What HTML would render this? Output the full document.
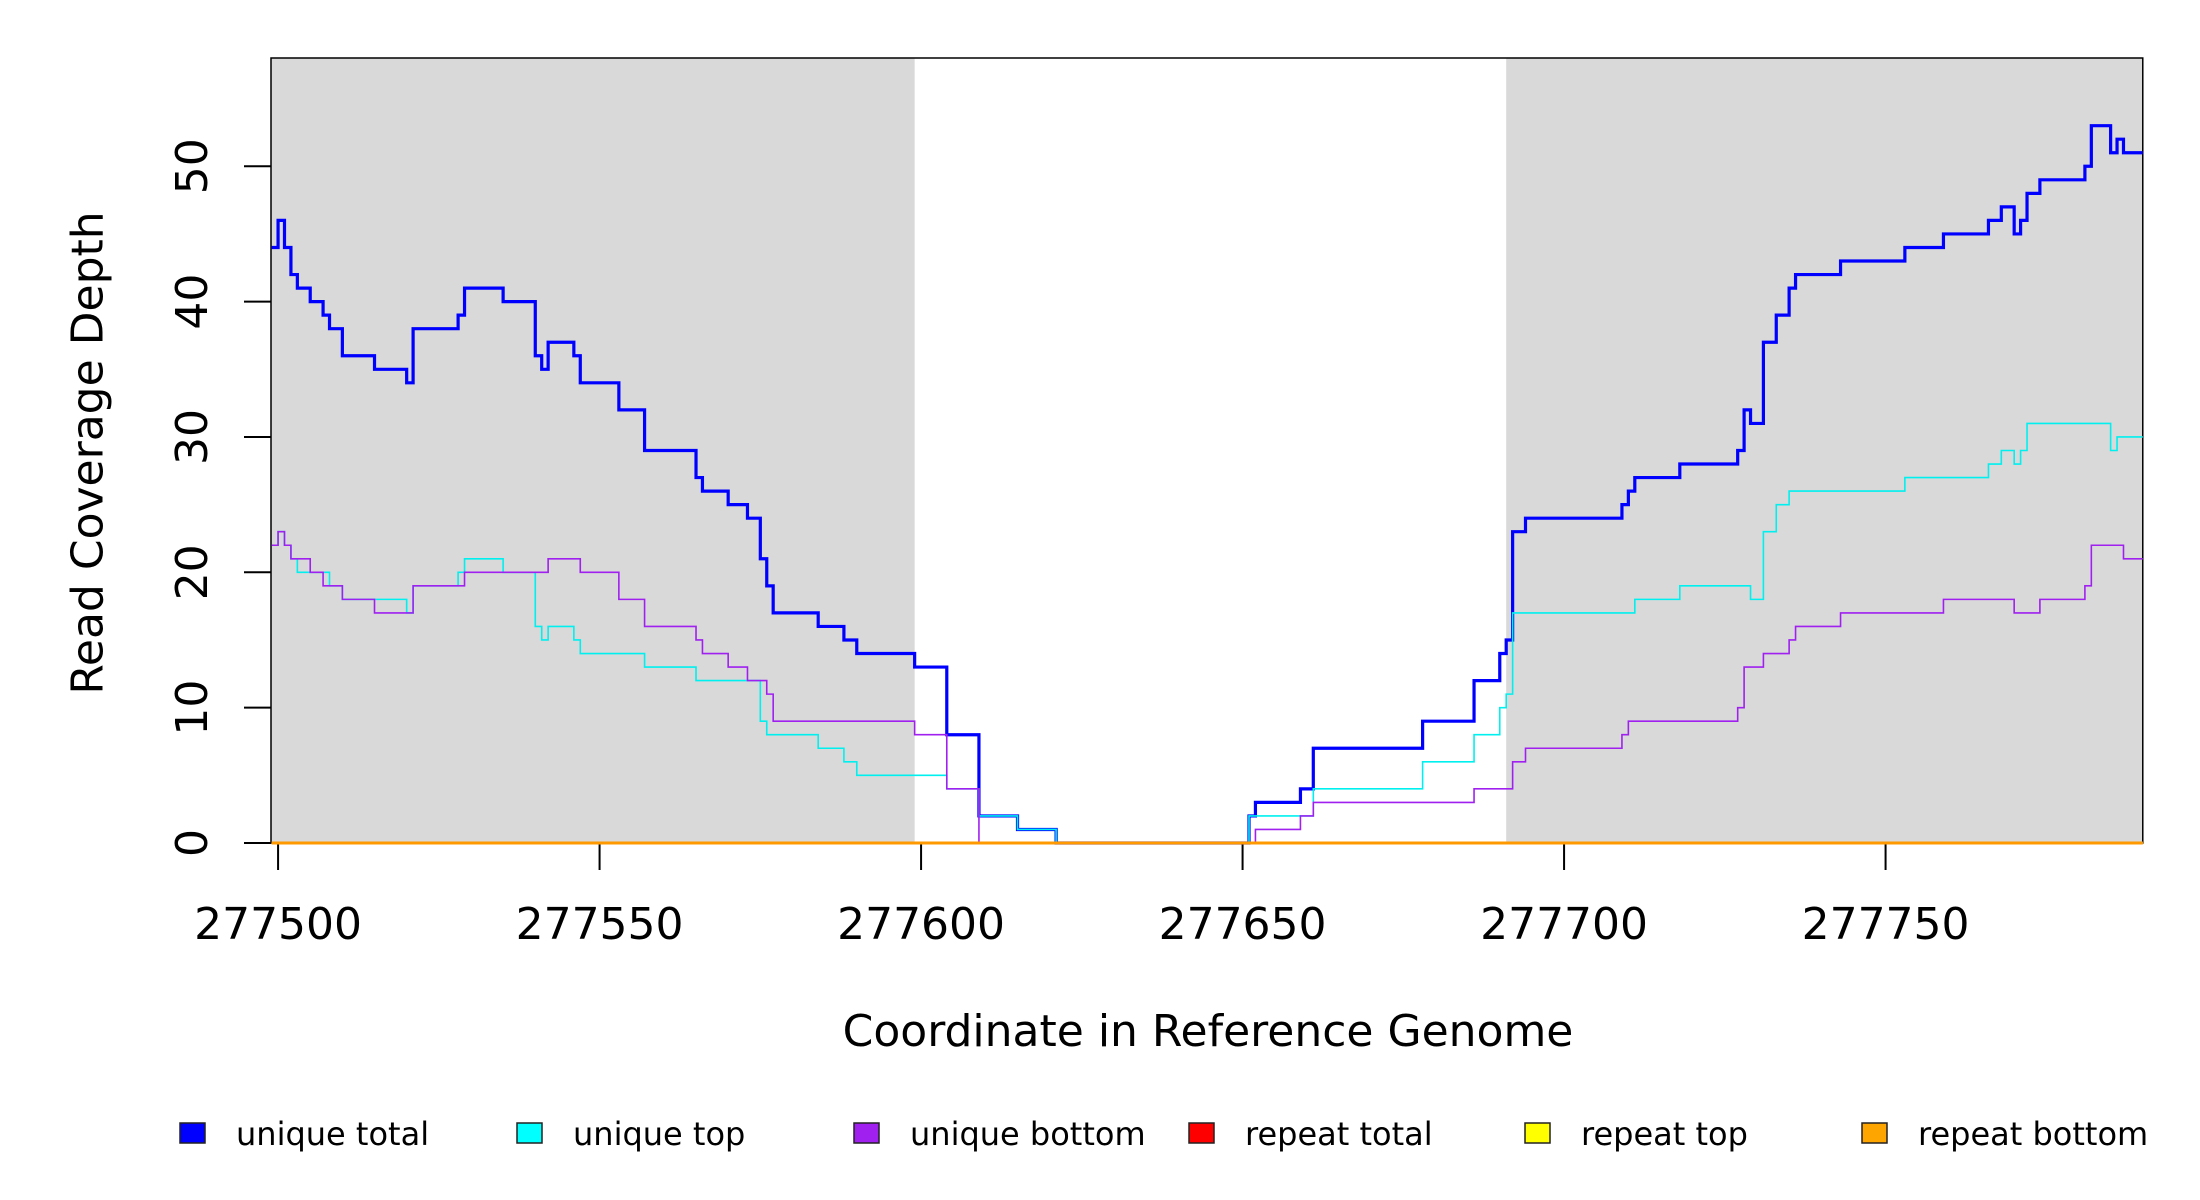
<!DOCTYPE html>
<html><head><meta charset="utf-8"><style>
html,body{margin:0;padding:0;background:#fff;}
svg{display:block;font-family:"DejaVu Sans","Liberation Sans",sans-serif;}
</style></head><body>
<svg id="chart" width="2200" height="1200" viewBox="0 0 2200 1200" xmlns="http://www.w3.org/2000/svg">
<g id="bg"></g>
<g id="axes"></g>
<g id="series"></g>
<text x="88" y="453" font-size="44" text-anchor="middle" dominant-baseline="central" transform="rotate(-90 88 453)">Read Coverage Depth</text>
<text x="1208" y="1046" font-size="44" text-anchor="middle">Coordinate in Reference Genome</text>
<g id="legend"></g>
</svg>
<script>
const breaks = [277499,277500,277501,277502,277503,277505,277507,277508,277510,277515,277520,277521,277528,277529,277535,277540,277541,277542,277546,277547,277553,277557,277565,277566,277570,277573,277575,277576,277577,277584,277588,277590,277599,277604,277609,277615,277621,277651,277652,277659,277661,277678,277686,277690,277691,277692,277694,277709,277710,277711,277718,277727,277728,277729,277731,277733,277735,277736,277743,277753,277759,277766,277768,277770,277771,277772,277774,277781,277782,277785,277786,277787];
const endCoord = 277790;
const uniqueTotal = [44,46,44,42,41,40,39,38,36,35,34,38,39,41,40,36,35,37,36,34,32,29,27,26,25,24,21,19,17,16,15,14,13,8,2,1,0,2,3,4,7,9,12,14,15,23,24,25,26,27,28,29,32,31,37,39,41,42,43,44,45,46,47,45,46,48,49,50,53,51,52,51];
const uniqueTop = [22,23,22,21,20,20,20,19,18,18,17,19,20,21,20,16,15,16,15,14,14,13,12,12,12,12,9,8,8,7,6,5,5,4,2,1,0,2,2,2,4,6,8,10,11,17,17,17,17,18,19,19,19,18,23,25,26,26,26,27,27,28,29,28,29,31,31,31,31,29,30,30];
const uniqueBottom = [22,23,22,21,21,20,19,19,18,17,17,19,19,20,20,20,20,21,21,20,18,16,15,14,13,12,12,11,9,9,9,9,8,4,0,0,0,0,1,2,3,3,4,4,4,6,7,8,9,9,9,10,13,13,14,14,15,16,17,17,18,18,18,17,17,17,18,19,22,22,22,21];
const repeatTotal = breaks.map(()=>0);
const repeatTop = breaks.map(()=>0);
const repeatBottom = breaks.map(()=>0);
const shadedRegions = [[277498.9,277599],[277691,277790]];
const xTicks = [277500,277550,277600,277650,277700,277750];
const yTicks = [0,10,20,30,40,50];
const legendLabels = ["unique total","unique top","unique bottom","repeat total","repeat top","repeat bottom"];
const legendColors = ["#0000ff","#00ffff","#a020f0","#ff0000","#ffff00","#ffa500"];

const xmin=277498.9, xmax=277790, ymin=0, ymax=58;
const X0=271, X1=271+(xmax-xmin)*6.43, Y0=843, Y1=58;
const sx = v => X0 + (v-xmin)/(xmax-xmin)*(X1-X0);
const sy = v => Y0 - (v-ymin)/(ymax-ymin)*(Y0-Y1);
const NS="http://www.w3.org/2000/svg";
function mk(tag, attrs, parent){const e=document.createElementNS(NS,tag);for(const k in attrs)e.setAttribute(k,attrs[k]);parent.appendChild(e);return e;}

const bg=document.getElementById('bg');
shadedRegions.forEach(r=>{
  const e=mk('rect',{x:sx(r[0]),y:Y1,width:sx(r[1])-sx(r[0]),height:Y0-Y1,fill:'#d9d9d9'},bg);
  
  
});

function stepPath(vals){
  let d='';
  for(let i=0;i<breaks.length;i++){
    const x0=sx(breaks[i]), x1=sx(i+1<breaks.length?breaks[i+1]:endCoord), y=sy(vals[i]);
    d += (i===0?'M':'L')+x0.toFixed(2)+' '+y.toFixed(2)+' L'+x1.toFixed(2)+' '+y.toFixed(2)+' ';
  }
  return d;
}

const ax=document.getElementById('axes');
const frame=mk('rect',{x:X0,y:Y1,width:X1-X0,height:Y0-Y1,fill:'none',stroke:'#000','stroke-width':1.5},ax);


xTicks.forEach(t=>{
  const tk=mk('line',{x1:sx(t),x2:sx(t),y1:Y0,y2:Y0+27,stroke:'#000','stroke-width':2},ax);
  
  
  const lb=mk('text',{x:sx(t),y:939,'font-size':44,'text-anchor':'middle'},ax);
  lb.textContent=t;
  
  
});
yTicks.forEach(t=>{
  const tk=mk('line',{x1:X0-27,x2:X0,y1:sy(t),y2:sy(t),stroke:'#000','stroke-width':2},ax);
  
  
  const lb=mk('text',{x:207,y:sy(t),'font-size':44,'text-anchor':'middle',transform:'rotate(-90 207 '+sy(t)+')'},ax);
  lb.textContent=t;
  
  
});

const ser=document.getElementById('series');
const seriesDefs=[[uniqueTotal,'#0000ff',3.2,'line-unique-total'],[uniqueTop,'#00f0f0',1.6,'line-unique-top'],[uniqueBottom,'#a020f0',1.6,'line-unique-bottom'],[repeatTotal,'#ff0000',2.5,'line-repeat-total'],[repeatTop,'#ffff00',2.5,'line-repeat-top'],[repeatBottom,'#ff9900',3,'line-repeat-bottom']];
seriesDefs.forEach(s=>{
  const e=mk('path',{d:stepPath(s[0]),fill:'none',stroke:s[1],'stroke-width':s[2]},ser);
  
  
});

const lg=document.getElementById('legend');
const boxX=[180,517,854,1189,1525,1862];
legendLabels.forEach((l,i)=>{
  const b=mk('rect',{x:boxX[i],y:1123,width:25,height:20,fill:legendColors[i],stroke:'#222','stroke-width':1.5},lg);
  
  
  const t=mk('text',{x:boxX[i]+56,y:1145,'font-size':32},lg);
  t.textContent=l;
  
  
});
</script>
</body></html>
